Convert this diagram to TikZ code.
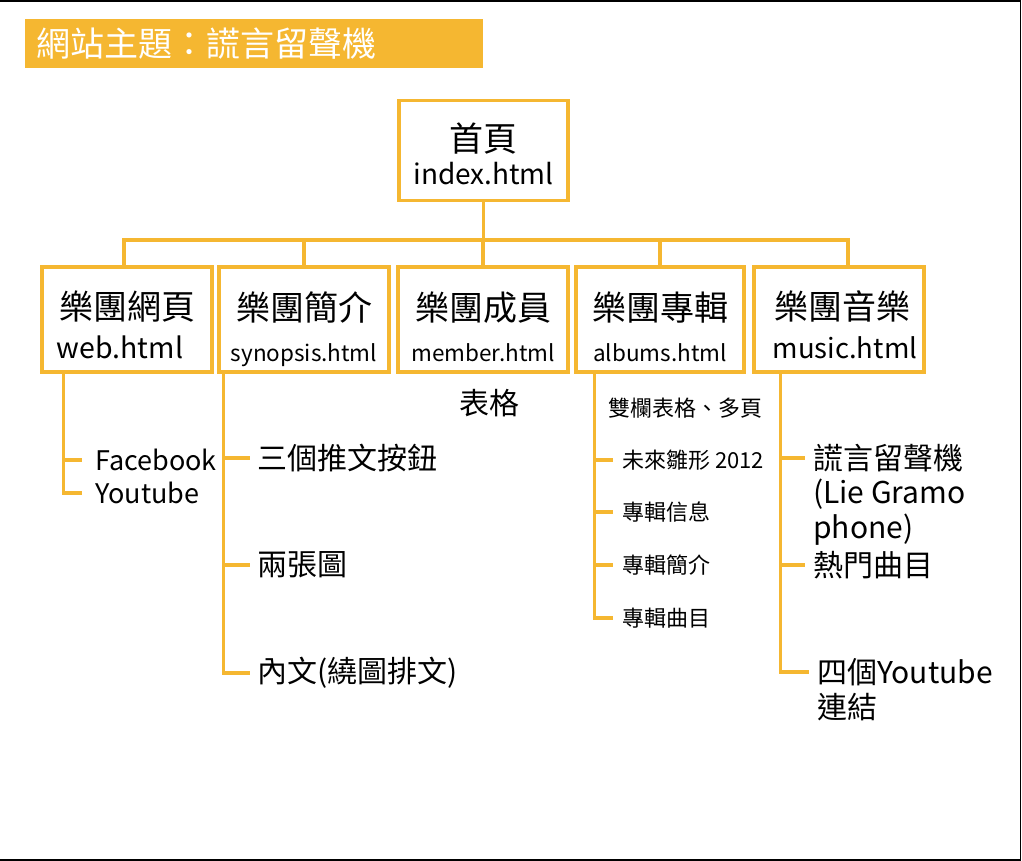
\documentclass[tikz,border=0pt]{standalone}
\usepackage{fontspec}
\setmainfont{Noto Sans CJK TC}
\usetikzlibrary{positioning}
\definecolor{gold}{RGB}{245,183,49}
\newcommand{\fsz}[2]{\fontsize{#1}{#2}\selectfont}
\newcommand{\padtop}[1]{\rule{0pt}{#1pt}}
\newcommand{\padbot}{\rule[-8pt]{0pt}{8pt}}
\tikzstyle{page} = [draw=gold, line width=3.5pt, minimum width=170pt, minimum height=105pt, align=center, inner sep=0pt, font=\fsz{34}{39}]
\tikzstyle{banner} = [fill=gold, text=white, anchor=north west, text width=436pt, inner xsep=11pt, minimum height=49pt, align=left, font=\fsz{34}{38}]
\tikzstyle{wire} = [draw=gold, line width=3.5pt]
\tikzstyle{leaf} = [anchor=west, inner sep=0pt, font=\fsz{30}{35}]
\tikzstyle{tiny} = [anchor=west, inner sep=0pt, font=\fsz{22}{26}]

\begin{document}
\begin{tikzpicture}[x=1pt,y=-1pt]
    \useasboundingbox (0,0) rectangle (1022,861);
    \draw[black, line width=1.5pt] (0,1) -- (1020.5,1) -- (1020.5,860) -- (0,860);
    \node[banner](title) at (25,19){網站主題：謊言留聲機};
    % pages
    \node[page, minimum width=169pt, minimum height=100pt, font=\fsz{34}{33}](home) at (483.5,150.3){\padtop{44}首頁\\{\fsz{28}{33}index.html\padbot}};
    \node[page](web) at (127,319.5){\padtop{46}樂團網頁\\{\fsz{28.5}{39}web.html\hspace{14pt}\padbot}};
    \node[page, font=\fsz{34}{41}](syn) at (304,319.5){\padtop{50}樂團簡介\\{\fsz{22.5}{41}synopsis.html\padbot}};
    \node[page, font=\fsz{34}{41}](mem) at (483,319.5){\padtop{50}樂團成員\\{\fsz{22.5}{41}member.html\padbot}};
    \node[page, minimum width=168pt, font=\fsz{34}{41}](alb) at (660,319.5){\padtop{50}樂團專輯\\{\fsz{22.5}{41}albums.html\padbot}};
    \node[page](mus) at (839,319.5){\hspace{6pt}\padtop{46}樂團音樂\\{\fsz{27.5}{39}\hspace{12pt}music.html\padbot}};
    \coordinate (hub) at ([yshift=-38pt]home.south);
    \draw[wire] (home) -- (hub);
    \draw[wire] ([xshift=-3pt]web.north) |- (hub) -| ([xshift=9pt]mus.north);
    \draw[wire] (syn) -- (syn |- hub);
    \draw[wire] (mem) -- (mem |- hub);
    \draw[wire] (alb) -- (alb |- hub);
    % web.html
    \node[leaf, font=\fsz{27}{32}](fb) at (95,460){Facebook};
    \node[leaf, font=\fsz{27}{32}](yt) at (95,493){Youtube};
    \coordinate (t1) at ([xshift=23pt]web.south west);
    \foreach \n in {fb,yt}
        \draw[wire] (t1) |- ([xshift=-13pt]\n.west);
    % synopsis.html
    \node[leaf](tw) at (257,458){三個推文按鈕};
    \node[leaf](pic) at (257,565){兩張圖};
    \node[leaf](txt) at (257,673){內文(繞圖排文)};
    \coordinate (t2) at ([xshift=6pt]syn.south west);
    \foreach \n in {tw,pic,txt}
        \draw[wire] (t2) |- ([xshift=-7pt]\n.west);
    % member.html
    \node[leaf](tbl) at (459,403){表格};
    % albums.html
    \node[tiny](two) at (608,408){雙欄表格、多頁};
    \node[tiny](demo) at (622,460){未來雛形 2012};
    \node[tiny](info) at (622,512){專輯信息};
    \node[tiny](intro) at (622,565){專輯簡介};
    \node[tiny](song) at (622,618){專輯曲目};
    \coordinate (t4) at ([xshift=20pt]alb.south west);
    \foreach \n in {demo,info,intro,song}
        \draw[wire] (t4) |- ([xshift=-9pt]\n.west);
    % music.html
    \node[leaf](lie) at (813,458){謊言留聲機};
    \node[leaf](lieb) at (813,494){(Lie Gramo};
    \node[leaf](liec) at (813,530){phone)};
    \node[leaf](hot) at (813,565){熱門曲目};
    \node[leaf](yt4) at (817,672){四個Youtube};
    \node[leaf](link) at (817,707){連結};
    \coordinate (t5) at ([xshift=28pt]mus.south west);
    \foreach \n in {lie,hot,yt4}
        \draw[wire] (t5) |- ([xshift=-8pt]\n.west);
\end{tikzpicture}
\end{document}
